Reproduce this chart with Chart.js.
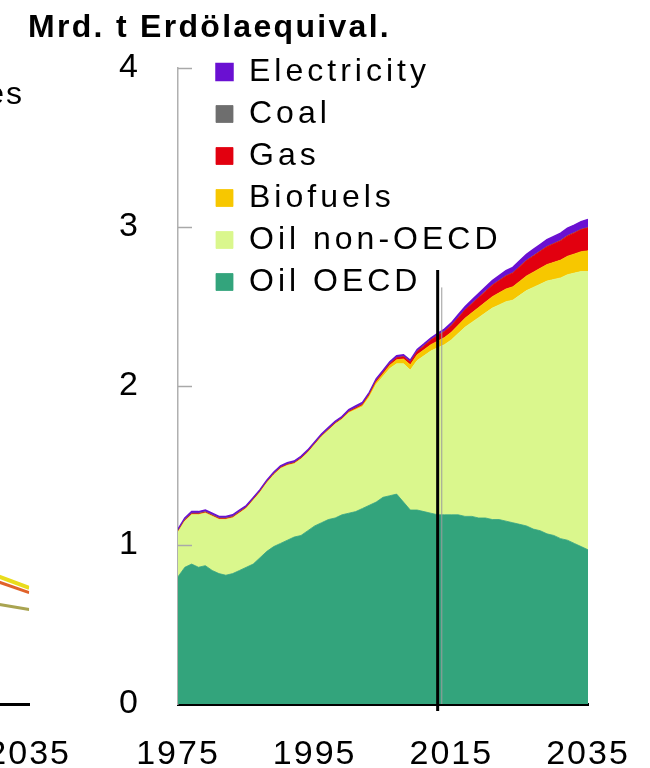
<!DOCTYPE html>
<html>
<head>
<meta charset="utf-8">
<script src="https://cdn.jsdelivr.net/npm/chart.js@4.4.1/dist/chart.umd.min.js"></script>
<style>
  html, body { margin: 0; padding: 0; background: #fff; }
  body { width: 650px; height: 768px; position: relative; overflow: hidden; font-family: "Liberation Sans", Arial, sans-serif; }
  #title { position: absolute; left: 28px; top: 10px; font-weight: bold; font-size: 32px; line-height: 32px; letter-spacing: 2.3px; white-space: nowrap; color: #000; }
  #leftLabel { position: absolute; right: 626px; top: 77px; font-size: 32px; line-height: 32px; letter-spacing: 2px; white-space: nowrap; color: #000; }
  #leftChart { position: absolute; left: -440px; top: 0; }
  #mainChart { position: absolute; left: 0; top: 0; }
</style>
</head>
<body>
<canvas id="leftChart" width="515" height="768"></canvas>
<canvas id="mainChart" width="650" height="768"></canvas>
<div id="title">Mrd. t Erdölaequival.</div>
<div id="leftLabel">es</div>
<script>
/* ============ Data ============ */
const years = [
    1975, 1976, 1977, 1978, 1979, 1980, 1981, 1982, 1983, 1984,
    1985, 1986, 1987, 1988, 1989, 1990, 1991, 1992, 1993, 1994,
    1995, 1996, 1997, 1998, 1999, 2000, 2001, 2002, 2003, 2004,
    2005, 2006, 2007, 2008, 2009, 2010, 2011, 2012, 2013, 2014,
    2015, 2016, 2017, 2018, 2019, 2020, 2021, 2022, 2023, 2024,
    2025, 2026, 2027, 2028, 2029, 2030, 2031, 2032, 2033, 2034, 2035
];

const oilOECD = [
    0.80, 0.86, 0.88, 0.86, 0.87, 0.84, 0.82, 0.81, 0.82, 0.84,
    0.86, 0.88, 0.92, 0.96, 0.99, 1.01, 1.03, 1.05, 1.06, 1.09,
    1.12, 1.14, 1.16, 1.17, 1.19, 1.20, 1.21, 1.23, 1.25, 1.27,
    1.30, 1.31, 1.32, 1.27, 1.22, 1.22, 1.21, 1.20, 1.19, 1.19,
    1.19, 1.19, 1.18, 1.18, 1.17, 1.17, 1.16, 1.16, 1.15, 1.14,
    1.13, 1.12, 1.10, 1.09, 1.07, 1.06, 1.04, 1.03, 1.01, 0.99, 0.97
];

const oilNonOECD = [
    0.28, 0.29, 0.31, 0.33, 0.33, 0.34, 0.34, 0.35, 0.35, 0.36,
    0.37, 0.40, 0.41, 0.43, 0.45, 0.47, 0.47, 0.46, 0.48, 0.49,
    0.51, 0.54, 0.56, 0.59, 0.60, 0.63, 0.64, 0.64, 0.68, 0.74,
    0.76, 0.80, 0.82, 0.87, 0.88, 0.94, 0.98, 1.02, 1.05, 1.07,
    1.10, 1.14, 1.19, 1.22, 1.26, 1.29, 1.33, 1.35, 1.38, 1.40,
    1.44, 1.48, 1.52, 1.55, 1.59, 1.61, 1.64, 1.67, 1.70, 1.73, 1.75
];

const biofuels = [
    0.002, 0.002, 0.002, 0.002, 0.002, 0.002, 0.002, 0.002, 0.002, 0.002,
    0.002, 0.002, 0.002, 0.002, 0.002, 0.002, 0.002, 0.002, 0.002, 0.002,
    0.002, 0.002, 0.002, 0.002, 0.002, 0.005, 0.006, 0.008, 0.010, 0.013,
    0.016, 0.020, 0.025, 0.030, 0.033, 0.037, 0.038, 0.040, 0.042, 0.045,
    0.048, 0.052, 0.056, 0.060, 0.064, 0.068, 0.072, 0.076, 0.080, 0.084,
    0.088, 0.092, 0.096, 0.100, 0.104, 0.108, 0.112, 0.116, 0.120, 0.125, 0.130
];

const gas = [
    0.004, 0.004, 0.004, 0.004, 0.004, 0.004, 0.004, 0.004, 0.004, 0.004,
    0.004, 0.004, 0.004, 0.004, 0.004, 0.004, 0.004, 0.004, 0.004, 0.004,
    0.004, 0.004, 0.004, 0.004, 0.004, 0.004, 0.005, 0.006, 0.007, 0.008,
    0.009, 0.010, 0.012, 0.014, 0.016, 0.020, 0.024, 0.029, 0.035, 0.038,
    0.042, 0.047, 0.052, 0.057, 0.062, 0.067, 0.072, 0.077, 0.082, 0.087,
    0.092, 0.097, 0.102, 0.107, 0.112, 0.117, 0.122, 0.128, 0.133, 0.139, 0.145
];

const coal = [
    0.004, 0.004, 0.004, 0.004, 0.004, 0.004, 0.004, 0.004, 0.004, 0.004,
    0.002, 0.002, 0.002, 0.002, 0.002, 0.002, 0.002, 0.002, 0.002, 0.002,
    0.002, 0.002, 0.002, 0.002, 0.002, 0.002, 0.002, 0.002, 0.002, 0.002,
    0.002, 0.002, 0.002, 0.002, 0.002, 0.002, 0.002, 0.002, 0.002, 0.002,
    0.002, 0.002, 0.002, 0.002, 0.002, 0.002, 0.002, 0.002, 0.002, 0.002,
    0.002, 0.002, 0.002, 0.002, 0.002, 0.002, 0.002, 0.002, 0.002, 0.002, 0.002
];

const electricity = [
    0.010, 0.010, 0.010, 0.010, 0.010, 0.010, 0.010, 0.010, 0.010, 0.010,
    0.010, 0.010, 0.010, 0.010, 0.010, 0.010, 0.010, 0.010, 0.010, 0.010,
    0.010, 0.010, 0.010, 0.010, 0.010, 0.011, 0.011, 0.011, 0.011, 0.011,
    0.011, 0.011, 0.011, 0.011, 0.011, 0.011, 0.011, 0.011, 0.012, 0.013,
    0.015, 0.017, 0.019, 0.021, 0.023, 0.025, 0.027, 0.029, 0.031, 0.033,
    0.035, 0.037, 0.039, 0.041, 0.043, 0.044, 0.045, 0.046, 0.047, 0.048, 0.050
];

const xTickYears = [1975, 1995, 2015, 2035];
const yTicks = [0, 1, 2, 3, 4];
const forecastYear = 2013;      // black divider
const forecastTop = 2.73;
const forecastGuideYear = 2013.6; // thin grey guide next to it
const forecastGuideTop = 2.62;

// neighbour chart, only its right end is visible
const leftYears = [2030, 2035];
const leftSeriesYellow = [0.81, 0.73];
const leftSeriesOrange = [0.775, 0.70];
const leftSeriesOlive = [0.63, 0.595];

/* ============ Style ============ */
const FONT = "'Liberation Sans', Arial, sans-serif";
const SERIES = [
    {label: "Oil OECD", data: oilOECD, color: "#33a47c"},
    {label: "Oil non-OECD", data: oilNonOECD, color: "#daf78d"},
    {label: "Biofuels", data: biofuels, color: "#f7c700"},
    {label: "Gas", data: gas, color: "#e2000f"},
    {label: "Coal", data: coal, color: "#6e6e6e"},
    {label: "Electricity", data: electricity, color: "#6a10d2"},
];

const toPoints = (xs, ys) => xs.map((x, i) => ({x, y: ys[i]}));

/* ============ Plugins ============ */
const spacing = {
    id: "spacing",
    beforeLayout(chart) { chart.ctx.letterSpacing = "2px"; },
    beforeDraw(chart) { chart.ctx.letterSpacing = "2px"; }
};

const legendNudge = {
    id: "legendNudge",
    afterLayout(chart) {
        const lg = chart.legend;
        if (!lg) return;
        lg.left = chart.chartArea.left + 28;
        lg.top = chart.chartArea.top - 22;
        if (!lg._spaced) {
            const orig = lg.draw.bind(lg);
            lg.draw = function (area) {
                const c = chart.ctx;
                const prev = c.letterSpacing;
                c.letterSpacing = "4px";
                orig(area);
                c.letterSpacing = prev;
            };
            lg._spaced = true;
        }
    }
};

const axisMarks = {
    id: "axisMarks",
    afterDatasetsDraw(chart) {
        const {ctx, scales: {x, y}} = chart;
        ctx.save();
        // inward ticks on the y axis
        ctx.strokeStyle = "#a9a9a9";
        ctx.lineWidth = 1.5;
        for (const v of yTicks.slice(1)) {
            const py = Math.round(y.getPixelForValue(v)) + 0.5;
            ctx.beginPath();
            ctx.moveTo(x.left, py);
            ctx.lineTo(x.left + 14, py);
            ctx.stroke();
        }
        // forecast divider
        const gx = x.getPixelForValue(forecastGuideYear);
        ctx.strokeStyle = "#9c9c9c";
        ctx.lineWidth = 1;
        ctx.beginPath();
        ctx.moveTo(gx, y.getPixelForValue(forecastGuideTop));
        ctx.lineTo(gx, y.bottom);
        ctx.stroke();
        const fx = x.getPixelForValue(forecastYear);
        ctx.strokeStyle = "#000";
        ctx.lineWidth = 3;
        ctx.beginPath();
        ctx.moveTo(fx, y.getPixelForValue(forecastTop));
        ctx.lineTo(fx, y.bottom + 7);
        ctx.stroke();
        ctx.restore();
    }
};

/* ============ Shared axis setup ============ */
function xAxis() {
    return {
        type: "linear",
        min: 1975,
        max: 2035,
        grid: {display: false, drawTicks: false},
        border: {display: true, color: "#000", width: 3},
        afterBuildTicks: axis => { axis.ticks = xTickYears.map(v => ({value: v})); },
        afterFit: axis => { axis.height = 64; },
        ticks: {
            color: "#000",
            // tall line box pushes the labels down without widening the side padding
            font: {family: FONT, size: 34, lineHeight: "94px"},
            padding: 4,
            maxRotation: 0,
            autoSkip: false,
            callback: v => String(v)
        }
    };
}

/* ============ Main chart ============ */
new Chart(document.getElementById("mainChart"), {
    type: "line",
    data: {
        datasets: SERIES.map((s, i) => ({
            label: s.label,
            data: toPoints(years, s.data),
            backgroundColor: s.color,
            borderColor: s.color,
            borderWidth: s.label === "Electricity" ? 1.5 : 0.8,
            pointRadius: 0,
            tension: 0,
            fill: i === 0 ? "origin" : "-1"
        }))
    },
    options: {
        responsive: false,
        animation: false,
        events: [],
        layout: {padding: {top: 68, right: 62, bottom: 0, left: 118}},
        plugins: {
            title: {display: false},
            tooltip: {enabled: false},
            legend: {
                position: "chartArea",
                align: "start",
                reverse: true,
                labels: {
                    color: "#000",
                    font: {family: FONT, size: 32},
                    boxWidth: 17,
                    boxHeight: 17,
                    padding: 10
                }
            }
        },
        scales: {
            x: xAxis(),
            y: {
                stacked: true,
                min: 0,
                max: 4,
                grid: {display: false, drawTicks: false},
                border: {display: true, color: "#b0b0b0", width: 1.5},
                afterBuildTicks: axis => { axis.ticks = yTicks.map(v => ({value: v})); },
                afterFit: axis => { axis.width = 60; },
                ticks: {
                    color: "#000",
                    font: {family: FONT, size: 34},
                    padding: 38
                }
            }
        }
    },
    plugins: [spacing, legendNudge, axisMarks]
});

/* ============ Neighbour chart (cut off at the left edge) ============ */
const leftLines = [
    {data: leftSeriesYellow, color: "#e9dc1c", width: 4},
    {data: leftSeriesOrange, color: "#e0622a", width: 3},
    {data: leftSeriesOlive, color: "#a9a451", width: 3},
];
new Chart(document.getElementById("leftChart"), {
    type: "line",
    data: {
        datasets: leftLines.map(l => ({
            data: toPoints(leftYears, l.data),
            borderColor: l.color,
            borderWidth: l.width,
            pointRadius: 0,
            fill: false
        }))
    },
    options: {
        responsive: false,
        animation: false,
        events: [],
        layout: {padding: {top: 68, right: 45, bottom: 0, left: 60}},
        plugins: {legend: {display: false}, tooltip: {enabled: false}},
        scales: {
            x: xAxis(),
            y: {display: false, min: 0, max: 4}
        }
    },
    plugins: [spacing]
});
</script>
</body>
</html>
